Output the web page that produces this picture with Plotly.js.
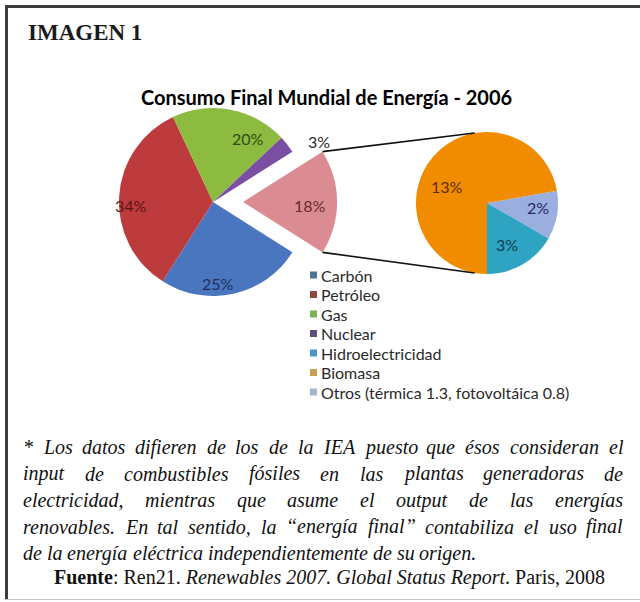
<!DOCTYPE html>
<html><head><meta charset="utf-8">
<script src="https://cdn.plot.ly/plotly-3.0.1.min.js"></script>
<style>html,body{margin:0;padding:0;background:#fff;} #chart{width:640px;height:602px;}</style>
</head><body><div id="chart"></div>
<script>
// ---------------- data ----------------
const header = 'IMAGEN 1';
const chartTitle = 'Consumo Final Mundial de Energía - 2006';
const mainLabels = ['Carbón', 'Petróleo', 'Gas', 'Nuclear', 'Renovables'];
const mainValues = [25, 34, 20, 3, 18];
const subLabels = ['Otros (térmica 1.3, fotovoltáica 0.8)', 'Hidroelectricidad', 'Biomasa'];
const subValues = [2, 3, 13];
const legendLabels = ['Carbón', 'Petróleo', 'Gas', 'Nuclear', 'Hidroelectricidad', 'Biomasa', 'Otros (térmica 1.3, fotovoltáica 0.8)'];
const noteLines = [
  '* Los datos difieren de los de la IEA puesto que ésos consideran el',
  'input de combustibles fósiles en las plantas generadoras de',
  'electricidad, mientras que asume el output de las energías',
  'renovables. En tal sentido, la “energía final” contabiliza el uso final',
  'de la energía eléctrica independientemente de su origen.'
];
const sourceLine = '<b>Fuente</b>: Ren21. <i>Renewables 2007. Global Status Report</i>. Paris, 2008';

// ---------------- styles / layout ----------------
const W = 640, H = 602;
const mainColors = ['#4A76C0', '#BE3B3D', '#8DBB3F', '#7A4EA3', '#DA8C92'];
const subColors = ['#9BAEE0', '#2FA4C2', '#F18C00'];
const mainTextColors = ['#1F2F5F', '#5A1414', '#2F4A12', '#2a2a2a', '#6A2A2F'];
const subTextColors = ['#1E2A66', '#0E3D4F', '#5A2E00'];
const legendColors = ['#4E7495', '#8B4A3C', '#7DB356', '#5E4F7A', '#4A95C8', '#C8A050', '#A4B4CC'];
// label placement: radius fraction and angle nudge (deg) relative to slice bisector
const mainLabelR = [0.87, 0.87, 0.77, 1.3, 0.71];
const mainLabelDA = [9, -6, 18, 8, 3];
const subLabelR = [0.72, 0.65, 0.61];
const subLabelDA = [-5, 4, -18];

const MAIN = {cx: 213, cy: 202, r: 94};
const SUB = {cx: 487, cy: 203, r: 71};
const explodeIndex = 4, pullAmt = 0.32;

const rad = d => d * Math.PI / 180;
const sum = a => a.reduce((s, v) => s + v, 0);
const cum = (a, i) => a.slice(0, i).reduce((s, v) => s + v, 0);
const px = x => x / W, py = y => 1 - y / H;
const polar = (cx, cy, rr, deg) => [cx + rr * Math.sin(rad(deg)), cy - rr * Math.cos(rad(deg))];
function dom(cx, cy, half) { return {x: [px(cx - half), px(cx + half)], y: [py(cy + half), py(cy - half)]}; }

const mainTotal = sum(mainValues), subTotal = sum(subValues);
const mainRotation = 90 - (cum(mainValues, explodeIndex) + mainValues[explodeIndex] / 2) / mainTotal * 360 + 360;
const subRotation = 180 - cum(subValues, 2) / subTotal * 360;
const mainPull = mainValues.map((v, i) => i === explodeIndex ? pullAmt : 0);

const traces = [
  {type: 'pie', labels: mainLabels, values: mainValues, sort: false, direction: 'clockwise',
   rotation: mainRotation, pull: mainPull, textinfo: 'none', hoverinfo: 'skip', showlegend: false,
   marker: {colors: mainColors, line: {width: 0}},
   domain: dom(MAIN.cx, MAIN.cy, MAIN.r * (1 + pullAmt))},
  {type: 'pie', labels: subLabels, values: subValues, sort: false, direction: 'clockwise',
   rotation: subRotation, textinfo: 'none', hoverinfo: 'skip', showlegend: false,
   marker: {colors: subColors, line: {width: 0}},
   domain: dom(SUB.cx, SUB.cy, SUB.r)}
];

const ann = [];
const shapes = [];
const lblFont = 'Lato, "Open Sans", sans-serif';

ann.push({text: '<b>' + header + '</b>', x: px(26), y: py(33), xanchor: 'left', yanchor: 'middle',
  font: {family: '"Liberation Serif", serif', size: 23, color: '#1a1a1a'}});
ann.push({text: '<b>' + chartTitle + '</b>', x: px(326), y: py(97), xanchor: 'center', yanchor: 'middle',
  font: {family: lblFont, size: 20, color: '#000'}});

// main pie labels
mainValues.forEach((v, i) => {
  const mid = mainRotation + (cum(mainValues, i) + v / 2) / mainTotal * 360;
  const c = polar(MAIN.cx, MAIN.cy, mainPull[i] * MAIN.r, mid);
  const p = polar(c[0], c[1], mainLabelR[i] * MAIN.r, mid + mainLabelDA[i]);
  ann.push({text: Math.round(v / mainTotal * 100) + '%', x: px(p[0]), y: py(p[1]), xanchor: 'center', yanchor: 'middle',
    font: {family: lblFont, size: 16, color: mainTextColors[i]}});
});
// sub pie labels (share of world total)
subValues.forEach((v, i) => {
  const mid = subRotation + (cum(subValues, i) + v / 2) / subTotal * 360;
  const p = polar(SUB.cx, SUB.cy, subLabelR[i] * SUB.r, mid + subLabelDA[i]);
  ann.push({text: Math.round(v / mainTotal * 100) + '%', x: px(p[0]), y: py(p[1]), xanchor: 'center', yanchor: 'middle',
    font: {family: lblFont, size: 16, color: subTextColors[i]}});
});

// connector lines from exploded slice to the secondary pie
{
  const i = explodeIndex;
  const a0 = mainRotation + cum(mainValues, i) / mainTotal * 360;
  const a1 = a0 + mainValues[i] / mainTotal * 360;
  const mid = (a0 + a1) / 2;
  const c = polar(MAIN.cx, MAIN.cy, pullAmt * MAIN.r, mid);
  const p0 = polar(c[0], c[1], MAIN.r, a0), p1 = polar(c[0], c[1], MAIN.r, a1);
  const q0 = polar(SUB.cx, SUB.cy, SUB.r, -10), q1 = polar(SUB.cx, SUB.cy, SUB.r, 190);
  [[p0, q0], [p1, q1]].forEach(([a, b]) => shapes.push({type: 'line', xref: 'paper', yref: 'paper',
    x0: px(a[0]), y0: py(a[1]), x1: px(b[0]), y1: py(b[1]), line: {color: '#111', width: 1.6}}));
}

// legend
legendLabels.forEach((t, i) => {
  const y = 275 + i * 19.5;
  shapes.push({type: 'rect', xref: 'paper', yref: 'paper', x0: px(310), x1: px(317), y0: py(y + 3.5), y1: py(y - 3.5),
    fillcolor: legendColors[i], line: {width: 0}});
  ann.push({text: t, x: px(319), y: py(y), xanchor: 'left', yanchor: 'middle',
    font: {family: lblFont, size: 16, color: '#2a2a2a'}});
});

// frame
shapes.push({type: 'line', xref: 'paper', yref: 'paper', x0: px(6.5), x1: px(6.5), y0: py(5), y1: py(600), line: {color: '#3c3c3c', width: 3}});
shapes.push({type: 'line', xref: 'paper', yref: 'paper', x0: px(5), x1: px(645), y0: py(6.5), y1: py(6.5), line: {color: '#3c3c3c', width: 3}});
shapes.push({type: 'line', xref: 'paper', yref: 'paper', x0: px(5), x1: px(645), y0: py(599.5), y1: py(599.5), line: {color: '#c8c8c8', width: 1}});

// justified note paragraph
const noteFont = {family: '"Liberation Serif", serif', size: 20, color: '#111'};
const cv = document.createElement('canvas').getContext('2d');
cv.font = 'italic 20px "Liberation Serif"';
const left = 22, right = 622;
noteLines.forEach((line, li) => {
  const y = 447 + li * 26.5;
  const words = line.split(' ');
  const justify = li < noteLines.length - 1;
  const widths = words.map(w => cv.measureText(w).width);
  const spaceW = cv.measureText(' ').width;
  const gap = justify ? (right - left - sum(widths)) / (words.length - 1) : spaceW;
  let x = left;
  words.forEach((w, k) => {
    ann.push({text: '<i>' + w + '</i>', x: px(x - 1), y: py(y), xanchor: 'left', yanchor: 'middle', font: noteFont});
    x += widths[k] + gap;
  });
});
ann.push({text: sourceLine, x: px(329), y: py(577), xanchor: 'center', yanchor: 'middle', font: noteFont});

ann.forEach(a => { a.showarrow = false; a.xref = 'paper'; a.yref = 'paper'; });

const layout = {width: W, height: H, margin: {l: 0, r: 0, t: 0, b: 0}, paper_bgcolor: '#fff', plot_bgcolor: '#fff',
  showlegend: false, hovermode: false, annotations: ann, shapes: shapes,
  xaxis: {visible: false}, yaxis: {visible: false}};
Plotly.newPlot('chart', traces, layout, {displayModeBar: false, staticPlot: true});
</script></body></html>
